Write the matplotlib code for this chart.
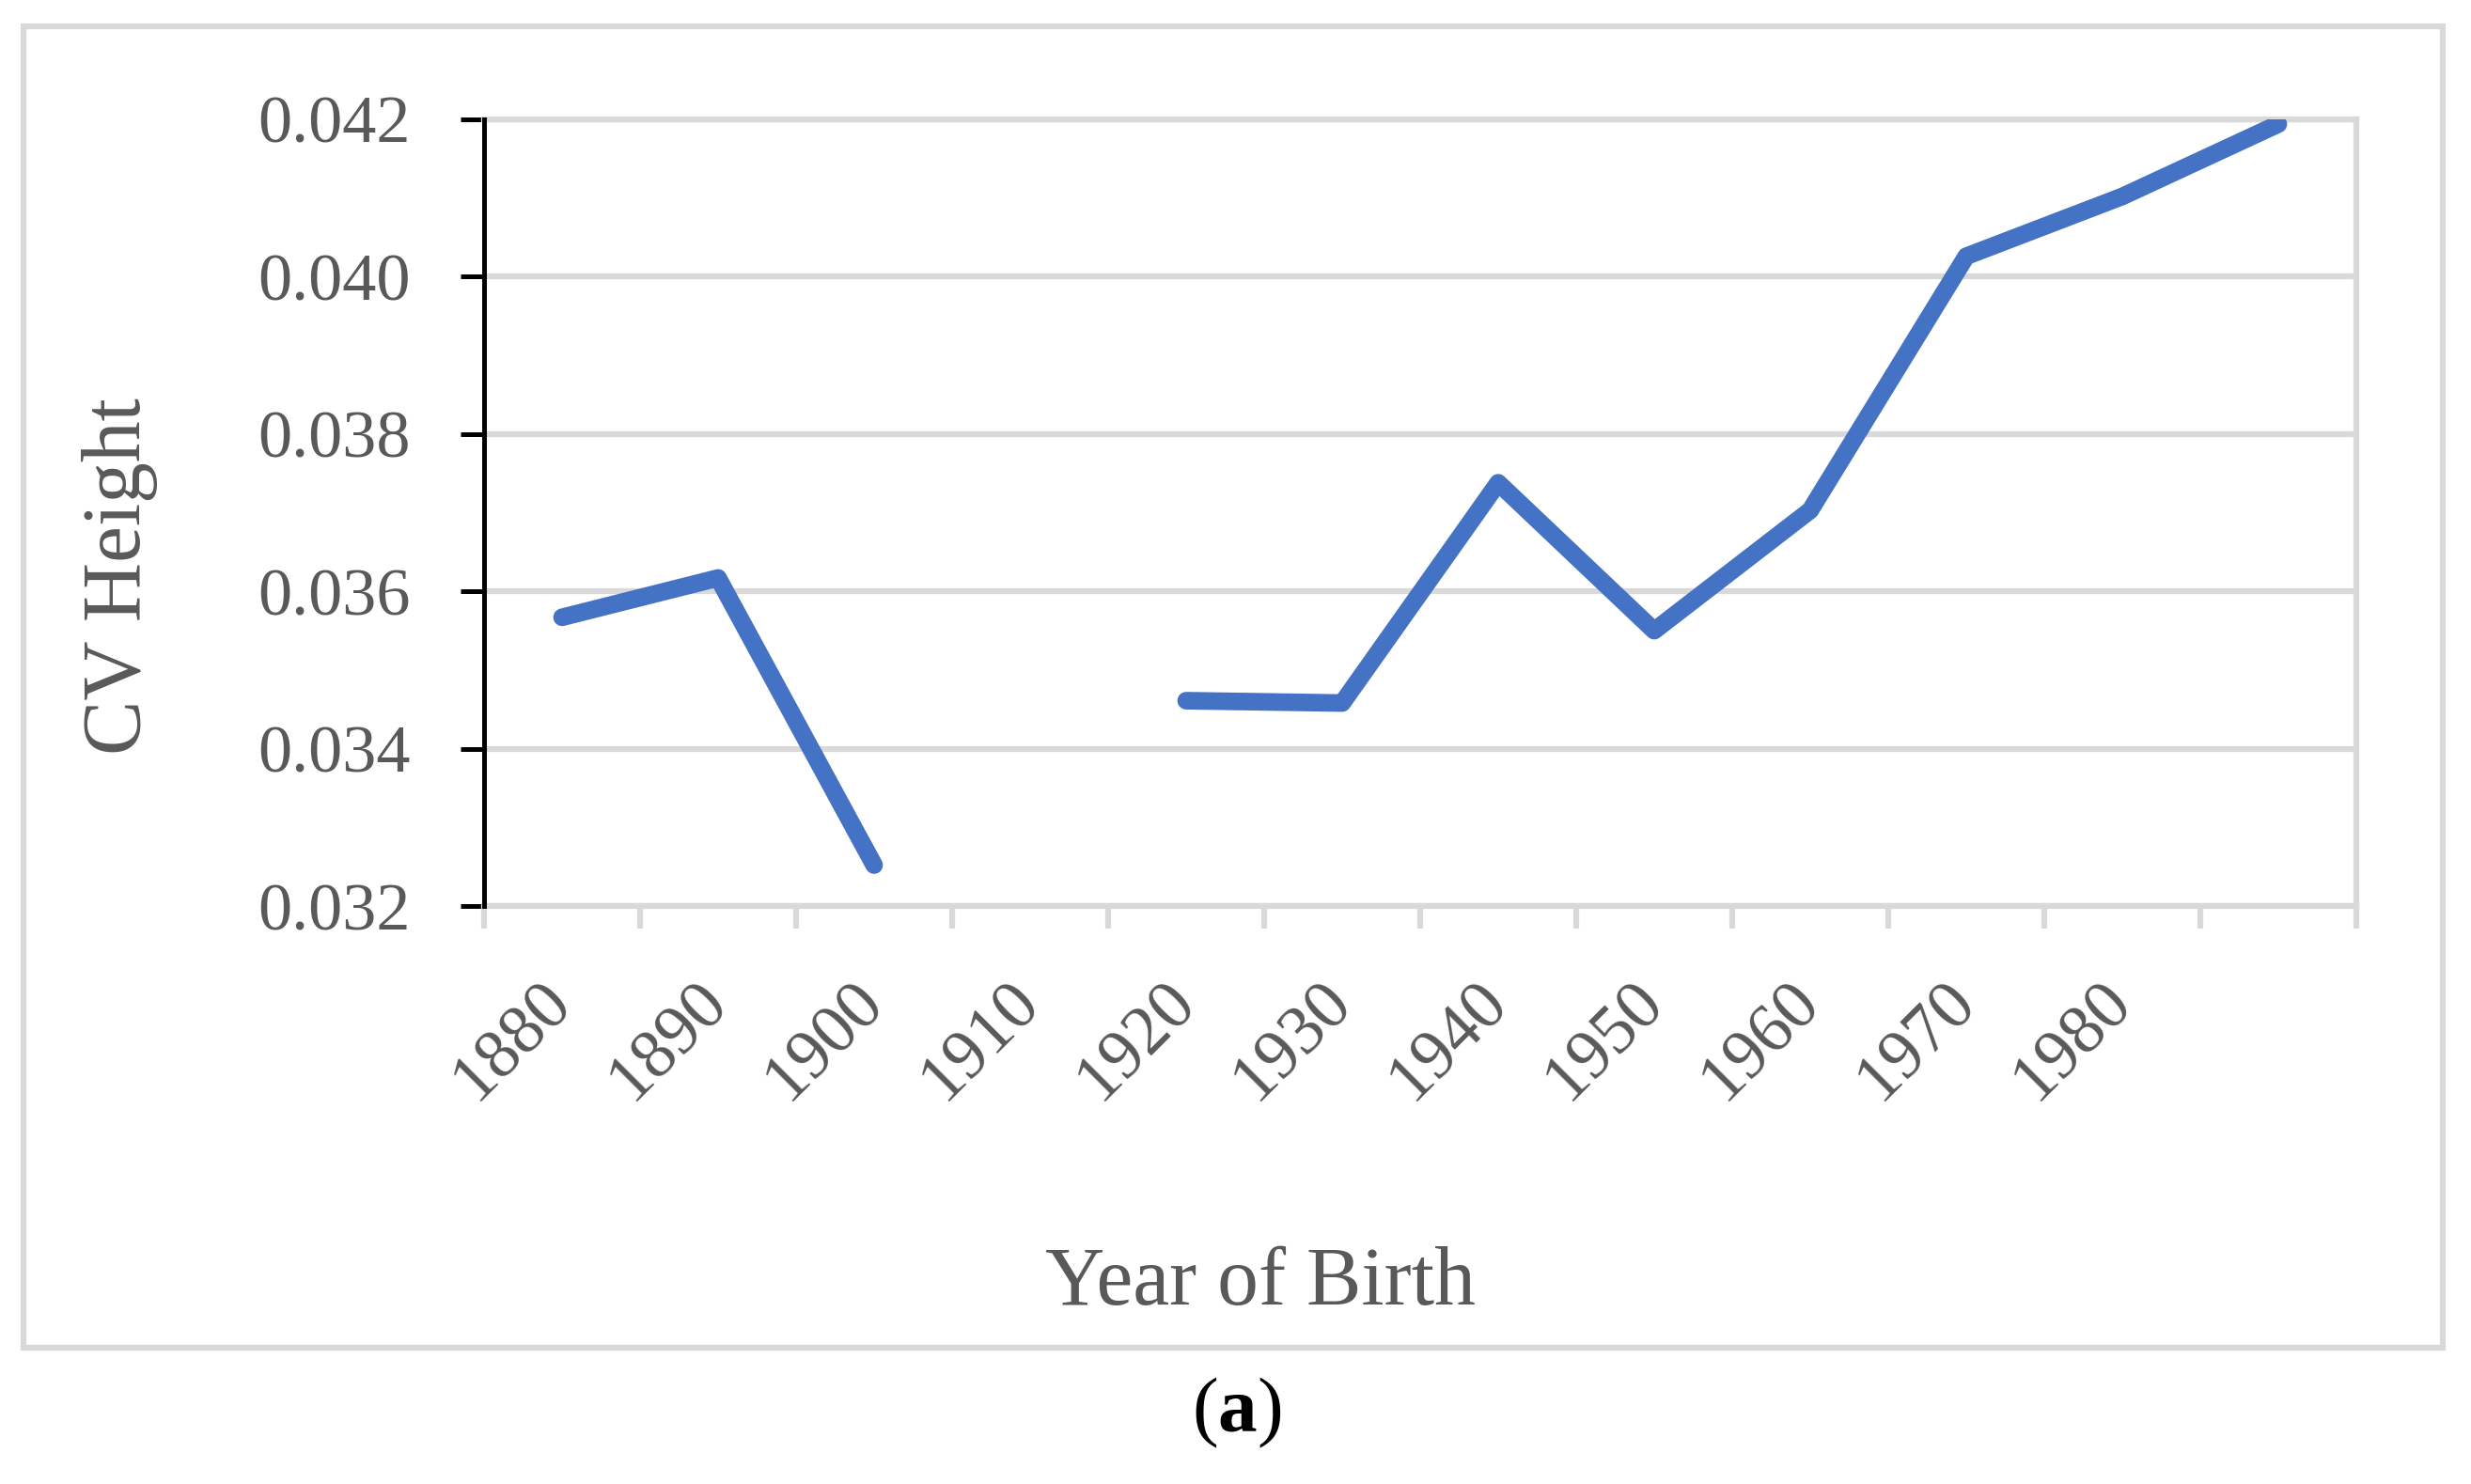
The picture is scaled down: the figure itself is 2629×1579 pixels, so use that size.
"""CV of height by year of birth (panel a)"""

import numpy as np
import matplotlib.pyplot as plt
from matplotlib.patches import Rectangle
from matplotlib.transforms import ScaledTranslation


plt.rcParams['font.family'] = ['Liberation Serif', 'DejaVu Serif']
plt.rcParams['mathtext.fontset'] = 'custom'
plt.rcParams['mathtext.rm'] = 'Liberation Serif'
plt.rcParams['mathtext.bf'] = 'Liberation Serif:bold'


# データ（10年ごとの出生コホート, 1910年代は欠測）
tick_years = [1880, 1890, 1900, 1910, 1920, 1930, 1940, 1950, 1960, 1970, 1980]
cv_height = [0.03567, 0.03617, 0.03252, np.nan, 0.03461, 0.03458,
             0.03738, 0.03550, 0.03703, 0.04026, 0.04102, 0.04194]
y_ticks = [0.032, 0.034, 0.036, 0.038, 0.040, 0.042]

GRAY = '#D9D9D9'
TEXT = '#595959'
W, H = 2629, 1579


fig = plt.figure(figsize=(W / 100, H / 100), dpi=100)
ax = fig.add_axes([515 / W, 1 - 964 / H, 1992 / W, 837 / H])

n = len(cv_height)
xpos = np.arange(n) + 0.5
ax.plot(xpos, cv_height, color='#4472C4', lw=13.5,
        solid_capstyle='round', solid_joinstyle='round', zorder=3)

ax.set_xlim(0, n)
ax.set_ylim(y_ticks[0], y_ticks[-1])

ax.set_yticks(y_ticks)
ax.set_yticklabels([f'{v:.3f}' for v in y_ticks])
ax.set_xticks(np.arange(n + 1))
ax.set_xticklabels([str(y) for y in tick_years] + [''] * (n + 1 - len(tick_years)),
                   rotation=45, ha='center', va='center', rotation_mode='anchor')

ax.yaxis.grid(True, color=GRAY, lw=4.5)
ax.set_axisbelow(True)

for s in ['top', 'right', 'bottom']:
    ax.spines[s].set_color(GRAY)
    ax.spines[s].set_linewidth(4.5)
ax.spines['left'].set_color('black')
ax.spines['left'].set_linewidth(3.6)
ax.spines['left'].set_zorder(4)

ax.tick_params(axis='y', length=18, width=3.6, color='black', pad=38,
               labelsize=52, labelcolor=TEXT)
ax.tick_params(axis='x', length=17, width=4.5, color=GRAY, pad=87,
               labelsize=53, labelcolor=TEXT)

# 回転ラベルを少し右へずらす
for lab in ax.get_xticklabels():
    lab.set_transform(lab.get_transform() + ScaledTranslation(0.31, 0, fig.dpi_scale_trans))

# 外枠
fig.add_artist(Rectangle((25 / W, 1 - 1434 / H), 2574 / W, 1406 / H,
                         transform=fig.transFigure, fill=False, ec=GRAY, lw=4.5))

fig.text(128 / W, 1 - 613 / H, 'CV Height', rotation=90, ha='center', va='center',
         fontsize=63, color=TEXT)
fig.text(1341 / W, 1 - 1388 / H, 'Year of Birth', ha='center', va='baseline',
         fontsize=63, color=TEXT)
fig.text(1316 / W, 1 - 1503 / H, r'($\mathbf{a}$)', ha='center', va='center',
         fontsize=60, color='black')

fig.savefig('out.png', dpi=100)
